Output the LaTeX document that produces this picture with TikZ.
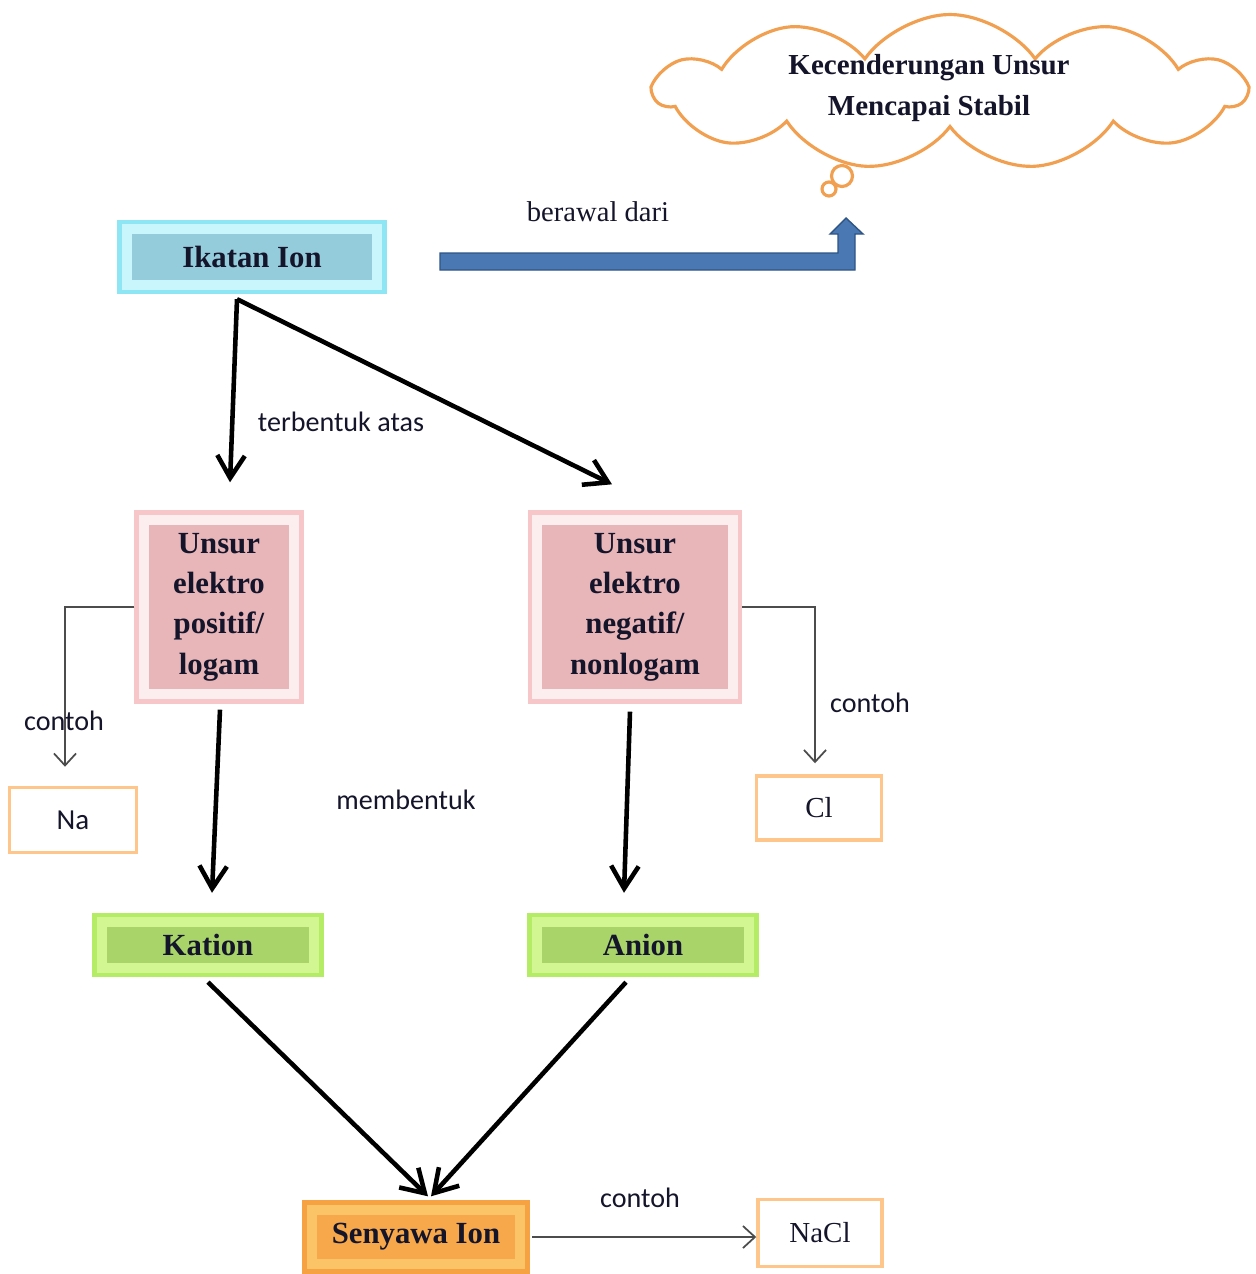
\documentclass[tikz,border=0pt]{standalone}
\usepackage{fontspec}
\setmainfont{Liberation Serif}
\newfontfamily\calibri{Carlito}
\usetikzlibrary{arrows.meta}
\usetikzlibrary{shapes.symbols}

\definecolor{teks}{HTML}{14142A}
\definecolor{oranye}{HTML}{F0A050}
\definecolor{biru}{HTML}{4A78B2}
\definecolor{birutua}{HTML}{2E5585}
\definecolor{cyangaris}{HTML}{8EE6F4}
\definecolor{cyanpita}{HTML}{C8F6FC}
\definecolor{cyandalam}{HTML}{94CCDC}
\definecolor{merahgaris}{HTML}{F6C6C8}
\definecolor{merahpita}{HTML}{FCEEEE}
\definecolor{merahdalam}{HTML}{E8B6B8}
\definecolor{hijaugaris}{HTML}{B4EC66}
\definecolor{hijaupita}{HTML}{D2F792}
\definecolor{hijaudalam}{HTML}{A8D46A}
\definecolor{jinggagaris}{HTML}{F6A242}
\definecolor{jinggapita}{HTML}{FBC466}
\definecolor{jinggadalam}{HTML}{F6A84A}

\tikzset{bevel/.style = {path picture={\fill[#1]
                   ([shift={(7pt,7pt)}]path picture bounding box.south west) rectangle
                   ([shift={(-7pt,-7pt)}]path picture bounding box.north east);}}}
\tikzset{kotak/.style = {rectangle, line width=2.5pt, text=teks, align=center,
                         font=\fontsize{17.5}{23}\selectfont\bfseries}}
\tikzset{ionbox/.style = {kotak, draw=cyangaris, fill=cyanpita, bevel=cyandalam}}
\tikzset{unsurbox/.style = {kotak, draw=merahgaris, fill=merahpita, bevel=merahdalam}}
\tikzset{hasilbox/.style = {kotak, draw=hijaugaris, fill=hijaupita, bevel=hijaudalam}}
\tikzset{senyawabox/.style = {kotak, draw=jinggagaris, fill=jinggapita, bevel=jinggadalam}}
\tikzset{contohbox/.style = {rectangle, draw=orange!45, line width=2pt, text=teks}}
\tikzset{panah/.style = {line width=2.6pt, -{Straight Barb[length=4.5mm,width=5.5mm]}}}
\tikzset{panahtipis/.style = {draw=gray!60!black, line width=1pt, -{Straight Barb[length=2.4mm,width=4.4mm]}}}
\tikzset{label/.style = {text=teks, font=\calibri\fontsize{16}{19}\selectfont}}

\begin{document}
\begin{tikzpicture}[x=0.02cm, y=-0.02cm]
  \useasboundingbox (0,0) rectangle (1255,1274);

  % awan
  \node [cloud, cloud puffs=11, cloud puff arc=110, cloud ignores aspect,
         draw=oranye, line width=1.8pt, minimum width=11.8cm, minimum height=3.1cm]
        (awan) at (950,92) {};
  \node [align=center, text=teks, font=\fontsize{16.5}{23}\selectfont\bfseries]
        (awantks) at (929,88) {Kecenderungan Unsur\\Mencapai Stabil};
  \node [circle, draw=oranye, line width=1.8pt, minimum size=0.42cm, inner sep=0pt] (gel1) at (842,176) {};
  \node [circle, draw=oranye, line width=1.8pt, minimum size=0.28cm, inner sep=0pt] (gel2) at (829,189) {};

  \node [ionbox, minimum width=5.3cm, minimum height=1.4cm] (ikatan) at (252,257) {Ikatan Ion};

  % panah biru
  \filldraw [fill=biru, draw=birutua, line width=0.8pt]
    (440,253) -- (838,253) -- (838,234) -- (830,234) -- (846,218)
    -- (863,234) -- (855,234) -- (855,270) -- (440,270) -- cycle;
  \node [text=teks, font=\fontsize{16.3}{19}\selectfont] (berawal) at (598,212) {berawal dari};

  \node [unsurbox, minimum width=3.3cm, minimum height=3.78cm] (unsurL) at (219,607)
        {Unsur\\elektro\\positif/\\logam};
  \node [unsurbox, minimum width=4.2cm, minimum height=3.78cm] (unsurR) at (635,607)
        {Unsur\\elektro\\negatif/\\nonlogam};

  \draw [panah] ([xshift=-0.3cm,yshift=-0.1cm]ikatan.south) -- ([xshift=0.22cm,yshift=0.56cm]unsurL.north);
  \draw [panah] ([xshift=-0.3cm,yshift=-0.1cm]ikatan.south) -- ([xshift=-0.46cm,yshift=0.52cm]unsurR.north);
  \node [label] (terbentuk) at (341,422) {terbentuk atas};

  \node [contohbox, minimum width=2.54cm, minimum height=1.3cm, font=\calibri\fontsize{16.5}{19}\selectfont] (na) at (73,820) {Na};
  \node [contohbox, minimum width=2.5cm, minimum height=1.28cm, font=\fontsize{16.5}{19}\selectfont] (cl) at (819,808) {Cl};

  \draw [panahtipis] (unsurL.west) -| ([xshift=-0.16cm,yshift=0.38cm]na.north);
  \draw [panahtipis] (unsurR.east) -| ([xshift=-0.08cm,yshift=0.22cm]cl.north);
  \node [label] (contohL) at (64,721) {contoh};
  \node [label] (contohR) at (870,703) {contoh};

  \node [hasilbox, minimum width=4.54cm, minimum height=1.2cm] (kation) at (208,945) {Kation};
  \node [hasilbox, minimum width=4.54cm, minimum height=1.2cm] (anion) at (643,945) {Anion};

  \draw [panah] ([xshift=0.02cm,yshift=-0.12cm]unsurL.south) -- ([xshift=0.08cm,yshift=0.4cm]kation.north);
  \draw [panah] ([xshift=-0.1cm,yshift=-0.16cm]unsurR.south) -- ([xshift=-0.38cm,yshift=0.4cm]anion.north);
  \node [label] (membentuk) at (406,800) {membentuk};

  \node [senyawabox, minimum width=4.46cm, minimum height=1.38cm] (senyawa) at (416,1237) {Senyawa Ion};
  \node [contohbox, minimum width=2.48cm, minimum height=1.34cm, font=\fontsize{16.5}{19}\selectfont] (nacl) at (820,1233) {NaCl};

  \draw [panah] ([yshift=-0.1cm]kation.south) -- ([xshift=0.24cm,yshift=0.08cm]senyawa.north);
  \draw [panah] ([xshift=-0.34cm,yshift=-0.1cm]anion.south) -- ([xshift=0.3cm,yshift=0.08cm]senyawa.north);

  \draw [panahtipis] ([xshift=0.05cm]senyawa.east) -- (senyawa.east -| nacl.west);
  \node [label] (contohB) at (640,1198) {contoh};
\end{tikzpicture}
\end{document}
